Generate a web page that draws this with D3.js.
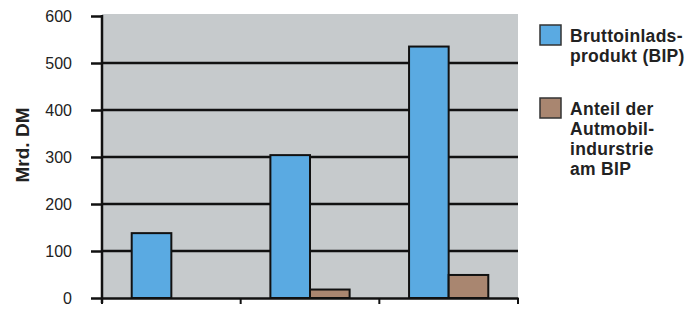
<!DOCTYPE html>
<html>
<head>
<meta charset="utf-8">
<script src="https://cdn.jsdelivr.net/npm/d3@7"></script>
<style>
  body { margin: 0; background: #fff; }
  svg { display: block; font-family: "Liberation Sans", Arial, sans-serif; }
</style>
</head>
<body>
<div id="chart"></div>
<script>
// data
const categories = ['A', 'B', 'C'];
const seriesNames = ['Bruttoinlandsprodukt (BIP)', 'Anteil der Automobilindustrie am BIP'];
const bipValues = [138, 304, 535];
const autoValues = [0, 18, 49];
const yTicks = [0, 100, 200, 300, 400, 500, 600];
const legendLines = [
  ['Bruttoinlads-', 'produkt (BIP)'],
  ['Anteil der', 'Autmobil-', 'indurstrie', 'am BIP']
];
const colors = ['#5aaae2', '#a98670'];

const width = 697, height = 309;
const margin = {top: 16, right: 179, bottom: 11, left: 102};
const innerW = width - margin.left - margin.right;
const innerH = height - margin.top - margin.bottom;

const svg = d3.select('#chart').append('svg')
  .attr('width', width)
  .attr('height', height);

const g = svg.append('g')
  .attr('transform', `translate(${margin.left},${margin.top})`);

const x = d3.scaleBand().domain(categories).range([0, innerW]).padding(0);
const xSub = d3.scaleBand().domain(seriesNames).range([0, x.bandwidth()]).paddingInner(0).paddingOuter(0.75);
const y = d3.scaleLinear().domain([0, 600]).range([innerH, 0]);

// plot background
g.append('rect')
  .attr('x', 0).attr('y', y(600) - 2)
  .attr('width', innerW).attr('height', innerH - y(600) + 2)
  .attr('fill', '#c6cacc');

// gridlines
g.selectAll('.grid').data(yTicks.filter(d => d > 0 && d < 600))
  .enter().append('line')
  .attr('x1', 0).attr('x2', innerW)
  .attr('y1', d => y(d)).attr('y2', d => y(d))
  .attr('stroke', '#111').attr('stroke-width', 2.5);

// bars
const rows = categories.map((c, i) => ({cat: c, values: [bipValues[i], autoValues[i]]}));
const groups = g.selectAll('.grp').data(rows).enter().append('g')
  .attr('transform', d => `translate(${x(d.cat)},0)`);

groups.selectAll('rect')
  .data(d => d.values.map((v, k) => ({key: seriesNames[k], v: v, k: k})).filter(e => e.v > 0))
  .enter().append('rect')
  .attr('x', d => xSub(d.key))
  .attr('y', d => y(d.v))
  .attr('width', xSub.bandwidth())
  .attr('height', d => innerH - y(d.v))
  .attr('fill', d => colors[d.k])
  .attr('stroke', '#111').attr('stroke-width', 2);

// y axis
const yAxis = g.append('g')
  .call(d3.axisLeft(y).tickValues(yTicks).tickSize(11).tickPadding(19));
yAxis.select('.domain').remove();
yAxis.selectAll('.tick line').attr('stroke', '#111').attr('stroke-width', 2.5);
yAxis.selectAll('.tick text')
  .attr('font-size', 16).attr('fill', '#222');
g.append('line')
  .attr('x1', 0).attr('x2', 0).attr('y1', y(600) - 1).attr('y2', innerH + 5)
  .attr('stroke', '#111').attr('stroke-width', 2.5);

// x axis
const xAxis = g.append('g')
  .attr('transform', `translate(0,${innerH})`)
  .call(d3.axisBottom(x).tickSize(0).tickFormat(''));
xAxis.select('.domain').attr('stroke', '#111').attr('stroke-width', 2.5);
const bounds = [0].concat(categories.map(c => x(c) + x.bandwidth()));
xAxis.selectAll('.bound').data(bounds).enter().append('line')
  .attr('x1', d => d).attr('x2', d => d)
  .attr('y1', 0).attr('y2', 6)
  .attr('stroke', '#111').attr('stroke-width', 2);

// y title
svg.append('text')
  .attr('transform', 'translate(29,145) rotate(-90)')
  .attr('text-anchor', 'middle')
  .attr('font-size', 19).attr('font-weight', 'bold').attr('fill', '#222')
  .text('Mrd. DM');

// legend
const legend = svg.append('g').attr('transform', 'translate(540,25)');
const legendY = [0, 73];
legendLines.forEach((lines, i) => {
  const lg = legend.append('g').attr('transform', `translate(0,${legendY[i]})`);
  lg.append('rect')
    .attr('width', 21).attr('height', 20)
    .attr('fill', colors[i]).attr('stroke', '#333').attr('stroke-width', 1.5);
  lg.append('text')
    .attr('x', 30).attr('y', 17)
    .attr('font-size', 17.5).attr('font-weight', 'bold').attr('fill', '#222')
    .attr('letter-spacing', 0.3)
    .selectAll('tspan').data(lines).enter().append('tspan')
    .attr('x', 30).attr('dy', (d, j) => j === 0 ? 0 : 20)
    .text(d => d);
});
</script>
</body>
</html>
